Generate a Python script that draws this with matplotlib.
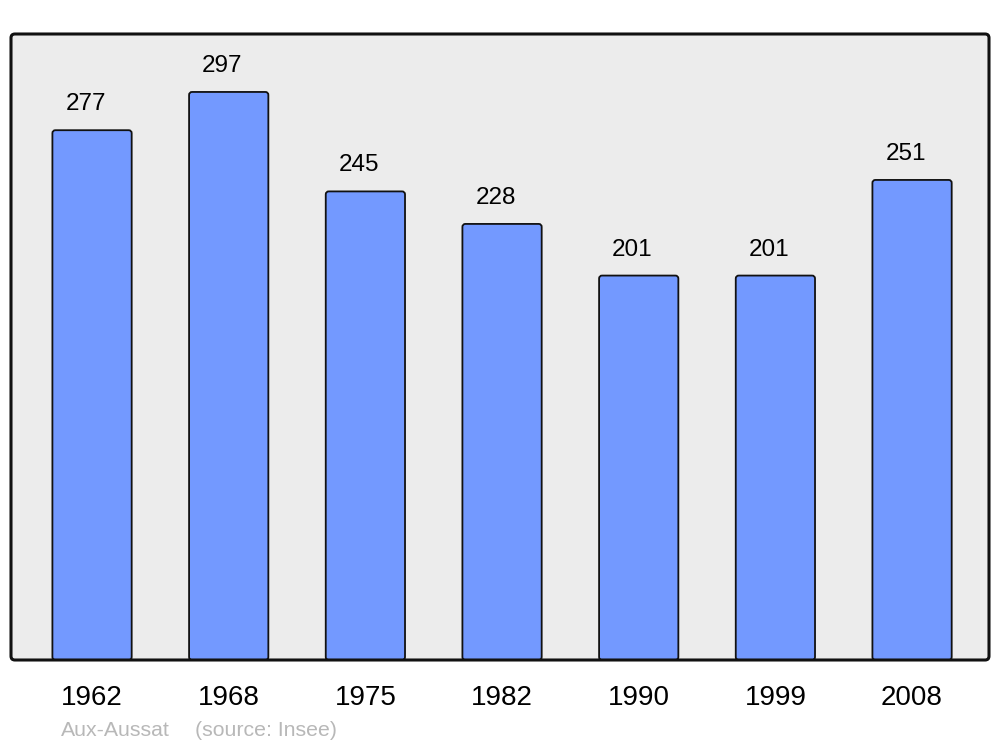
import matplotlib
matplotlib.use("Agg")
import matplotlib.pyplot as plt
from matplotlib.patches import FancyBboxPatch

years = ["1962", "1968", "1975", "1982", "1990", "1999", "2008"]
population = [277, 297, 245, 228, 201, 201, 251]
commune = "Aux-Aussat"
source = "(source: Insee)"

plt.rcParams['font.family'] = ['Liberation Sans', 'DejaVu Sans']

fig = plt.figure(figsize=(10, 7.47), dpi=100)
W, H = 1000, 747
left, right, top, bottom = 11, 989, 34, 660
ymax = 327.3
ax = fig.add_axes([left / W, 1 - bottom / H, (right - left) / W, (bottom - top) / H])
ax.set_xlim(-0.593, 6.563)
ax.set_ylim(0, ymax)
for s in ax.spines.values():
    s.set_visible(False)
ax.patch.set_visible(False)

aspect_axes = (right - left) / (bottom - top)
bg = FancyBboxPatch((0, 0), 1, 1, boxstyle="round,pad=0,rounding_size=0.004",
                    mutation_aspect=aspect_axes, transform=ax.transAxes,
                    facecolor="#ececec", edgecolor="none", zorder=0, clip_on=False)
ax.add_patch(bg)
frame = FancyBboxPatch((0, 0), 1, 1, boxstyle="round,pad=0,rounding_size=0.004",
                       mutation_aspect=aspect_axes, transform=ax.transAxes,
                       facecolor="none", edgecolor="#111111", linewidth=2.2,
                       zorder=5, clip_on=False)
ax.add_patch(frame)

x = list(range(len(years)))
bars = ax.bar(x, population, width=0.58, color="none", edgecolor="none")
px_x = (6.563 + 0.593) / (right - left)
px_y = ymax / (bottom - top)
for b in bars:
    bx, by = b.get_x(), b.get_y()
    bw, bh = b.get_width(), b.get_height()
    p = FancyBboxPatch((bx, by), bw, bh,
                       boxstyle="round,pad=0,rounding_size=%f" % (3 * px_x),
                       mutation_aspect=px_y / px_x,
                       facecolor="#7399ff", edgecolor="#111111", linewidth=1.3,
                       zorder=2)
    ax.add_patch(p)

for xi, v in zip(x, population):
    ax.annotate(str(v), (xi, v), xytext=(-4.5, 10.8), textcoords="offset points",
                ha="center", va="bottom", fontsize=17.5, color="#000000")

ax.set_xticks(x)
ax.set_xticklabels(years, fontsize=20)
ax.tick_params(axis="x", length=0, pad=18)
ax.set_yticks([])

fig.text(61 / W, 1 - 730 / H, commune, fontsize=15.3, color="#b8b8b8",
         ha="left", va="center")
fig.text(195 / W, 1 - 730 / H, source, fontsize=15.3, color="#b8b8b8",
         ha="left", va="center")

fig.savefig("out.png", dpi=100)
